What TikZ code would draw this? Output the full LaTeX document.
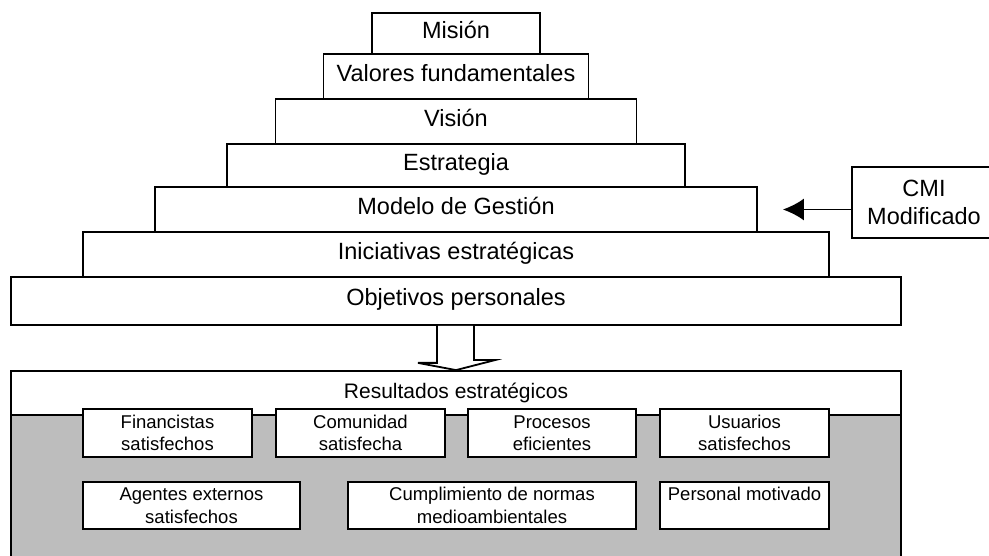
\documentclass[tikz,border=0pt]{standalone}
\usepackage{fontspec}
\setmainfont{Liberation Sans}
\usetikzlibrary{arrows.meta}
\definecolor{gris}{HTML}{BDBDBD}
\begin{document}
\begin{tikzpicture}[>={Latex[length=21pt,width=22pt]},x=1pt,y=-1pt,line width=1.8pt,line cap=rect,line join=miter,
	nivel/.style={draw,fill=white,inner sep=0pt,font=\fontsize{23.5}{28}\selectfont,text height=17pt,text depth=7pt},
	meta/.style={draw,fill=white,inner sep=0pt,align=center,font=\fontsize{18.5}{22.5}\selectfont,minimum width=169pt}]
	\clip (0,0) rectangle (989,556);
	% piramide
	\foreach \n/\t/\w/\y/\h in {mision/Misión/168/33.5/41,valores/Valores fundamentales/265/76.5/45,vision/Visión/361/121.5/45,estrategia/Estrategia/458/165.5/43,modelo/Modelo de Gestión/602/209.5/45,iniciativas/Iniciativas estratégicas/746/254.5/45,objetivos/Objetivos personales/890/301/48}{
			\node[nivel,minimum width=\w pt,minimum height=\h pt] (\n) at (456,\y) {\t};
		}
	\node[draw,fill=white,inner sep=0pt,align=center,font=\fontsize{23.5}{28}\selectfont,minimum width=144pt,minimum height=71pt] (cmi) at (924,202.5) {CMI\\Modificado};
	\draw[->] (cmi.west |- modelo.east) -- (modelo.east) [shorten >=25pt];
	% resultados
	\node[draw,fill=gris,inner sep=0pt,minimum width=890pt,minimum height=190pt] (fondo) at (456,510) {};
	\node[draw,fill=white,inner sep=0pt,minimum width=890pt,minimum height=44pt,font=\fontsize{21}{25}\selectfont] (resultados) at (456,393) {Resultados estratégicos};
	\draw[fill=white] ([xshift=-19pt]objetivos.south) -- ++(0,37) -- ++(-19,0)%
	-- (resultados.north) -- ++(39,-10) -- ++(-21,0) -- ([xshift=18pt]objetivos.south);
	\node[meta,minimum height=48pt] (financistas) at (167.5,433) {Financistas\\satisfechos};
	\node[meta,minimum height=48pt] (comunidad) at (360.5,433) {Comunidad\\satisfecha};
	\node[meta,minimum height=48pt,minimum width=168pt] (procesos) at (552,433) {Procesos\\eficientes};
	\node[meta,minimum height=48pt] (usuarios) at (744.5,433) {Usuarios\\satisfechos};
	\node[meta,minimum height=47pt,minimum width=217pt] (agentes) at (191.5,505.5) {Agentes externos\\satisfechos};
	\node[meta,minimum height=47pt,minimum width=288pt] (cumplimiento) at (492,505.5) {Cumplimiento de normas\\medioambientales};
	\node[meta,minimum height=47pt] (personal) at (744.5,505.5) {Personal motivado\\~};
\end{tikzpicture}
\end{document}
